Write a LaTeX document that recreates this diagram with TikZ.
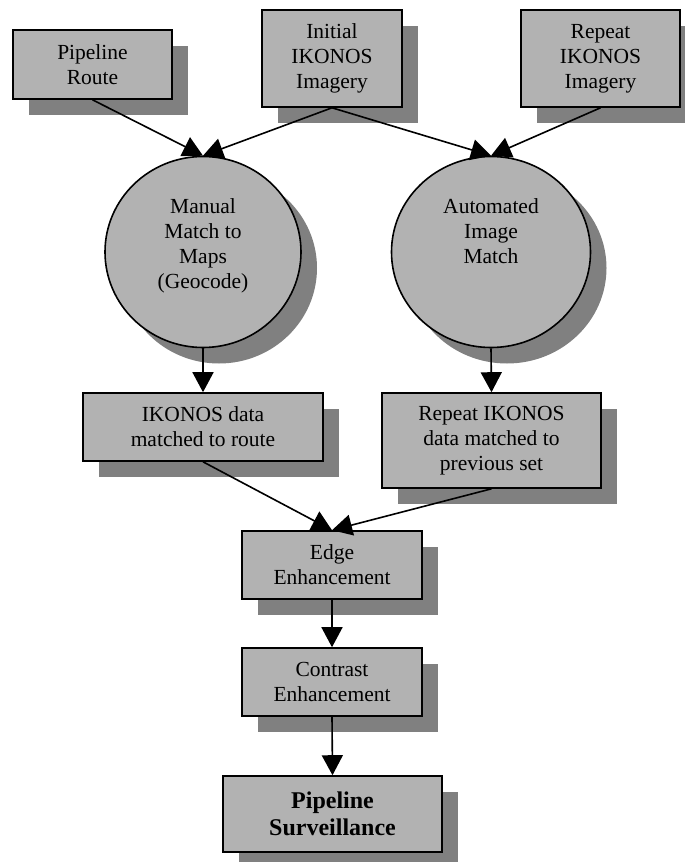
\documentclass[tikz,border=0pt]{standalone}
\usepackage{fontspec}
\setmainfont{Liberation Serif}
\usetikzlibrary{positioning}
\usetikzlibrary{shapes.geometric}
\usetikzlibrary{shadows}
\usetikzlibrary{arrows.meta}

\begin{document}
\begin{tikzpicture}[x=1pt,y=-1pt]
% définition des paramètres
\definecolor{fondgris}{gray}{0.7}
\definecolor{ombregris}{gray}{0.5}
\tikzstyle ombrepipe=[drop shadow={shadow xshift=16pt,shadow yshift=-16pt,opacity=1,fill=ombregris}]
\tikzstyle boitepipe=[draw=black,line width=1.6pt,fill=fondgris,ombrepipe,align=center,inner sep=2pt,font=\fontsize{21.5}{25}\selectfont]
\tikzstyle bullepipe=[ellipse,draw=black,line width=1.6pt,fill=fondgris,ombrepipe,inner sep=0pt]
\tikzstyle textepipe=[align=center,inner sep=0pt,font=\fontsize{21.5}{25}\selectfont]
\tikzstyle flechepipe=[line width=1.6pt,-{Triangle[length=20pt,width=21pt]}]

% le cadre
\useasboundingbox (0,0) rectangle (685,862);

% les sources
\node[boitepipe,minimum width=159pt,minimum height=69pt] (route) at (92.5,64.5) {Pipeline\\Route};
\node[boitepipe,minimum width=140pt,minimum height=97pt] (initial) at (332,58.5) {Initial\\IKONOS\\Imagery};
\node[boitepipe,minimum width=159pt,minimum height=97pt] (repeat) at (600.5,58.5) {Repeat\\IKONOS\\Imagery};

% les bulles
\node[bullepipe,minimum width=196pt,minimum height=191pt] (manual) at (203,252) {};
\node[textepipe,below=43pt of manual.north] (manualtxt) {Manual\\Match to\\Maps\\(Geocode)};
\node[bullepipe,minimum width=199pt,minimum height=191pt] (automated) at (491,252) {};
\node[textepipe,below=43pt of automated.north] (automatedtxt) {Automated\\Image\\Match};

% les données
\node[boitepipe,minimum width=240pt,minimum height=68pt] (matched) at (203,427) {IKONOS data\\matched to route};
\node[boitepipe,minimum width=219pt,minimum height=95pt] (rematched) at (491.5,440.5) {Repeat IKONOS\\data matched to\\previous set};

% les traitements
\node[boitepipe,minimum width=180pt,minimum height=68pt] (edge) at (332,565) {Edge\\Enhancement};
\node[boitepipe,minimum width=180pt,minimum height=68pt] (contrast) at (332,682) {Contrast\\Enhancement};
\node[boitepipe,minimum width=219pt,minimum height=76pt,font=\fontsize{24}{27}\selectfont\bfseries] (surveillance) at (332.5,814) {Pipeline\\Surveillance};

% les flèches
\draw[flechepipe] (route.south) -- (manual.north);
\draw[flechepipe] (initial.south) -- (manual.north);
\draw[flechepipe] (initial.south) -- (automated.north);
\draw[flechepipe] (repeat.south) -- (automated.north);
\draw[flechepipe] (manual.south) -- (matched.north);
\draw[flechepipe] (automated.south) -- (rematched.north);
\draw[flechepipe] (matched.south) -- (edge.north);
\draw[flechepipe] (rematched.south) -- (edge.north);
\draw[flechepipe] (edge.south) -- (contrast.north);
\draw[flechepipe] (contrast.south) -- (surveillance.north);
\end{tikzpicture}
\end{document}
